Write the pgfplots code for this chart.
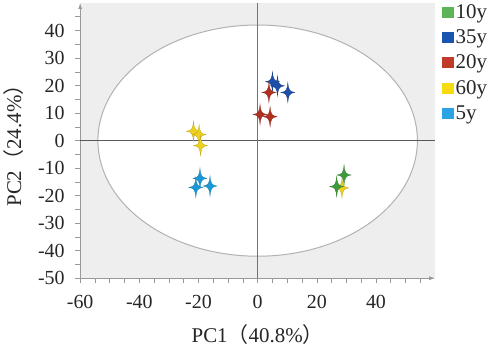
\documentclass[border=0pt]{standalone}
\usepackage{pgfplots}
\pgfplotsset{compat=1.18}
\usepackage{fontspec}
\setmainfont{Liberation Serif}
\newfontfamily\cjk{Noto Sans CJK SC}
\usetikzlibrary{arrows.meta,calc}
\definecolor{cgreen}{HTML}{3E9A3A}
\definecolor{cblue}{HTML}{1F4FA8}
\definecolor{cred}{HTML}{B0301F}
\definecolor{cyellow}{HTML}{EDD020}
\definecolor{ccyan}{HTML}{1A98D6}
\definecolor{lgreen}{HTML}{5DB456}
\definecolor{lblue}{HTML}{1A56B0}
\definecolor{lred}{HTML}{C0392B}
\definecolor{lyellow}{HTML}{F7DA10}
\definecolor{lcyan}{HTML}{2AA3E2}
\definecolor{bg}{HTML}{EEEEEE}
\pgfdeclareplotmark{sparkle}{%
 \pgfpathmoveto{\pgfqpoint{0pt}{10pt}}%
 \pgfpathcurveto{\pgfqpoint{0.7pt}{2.6pt}}{\pgfqpoint{1.6pt}{0.7pt}}{\pgfqpoint{7pt}{0pt}}%
 \pgfpathcurveto{\pgfqpoint{1.6pt}{-0.7pt}}{\pgfqpoint{0.7pt}{-2.6pt}}{\pgfqpoint{0pt}{-10pt}}%
 \pgfpathcurveto{\pgfqpoint{-0.7pt}{-2.6pt}}{\pgfqpoint{-1.6pt}{-0.7pt}}{\pgfqpoint{-7pt}{0pt}}%
 \pgfpathcurveto{\pgfqpoint{-1.6pt}{0.7pt}}{\pgfqpoint{-0.7pt}{2.6pt}}{\pgfqpoint{0pt}{10pt}}%
 \pgfpathclose
 \pgfusepathqfillstroke}
\begin{document}
\begin{tikzpicture}
\begin{axis}[
  scale only axis, width=356pt, height=276pt,
  xmin=-60, xmax=60, ymin=-50, ymax=50,
  axis x line=bottom, axis y line=left,
  axis line style={draw=gray!80, line width=0.8pt, -{Latex[length=6pt,width=4pt]}},
  axis background/.style={fill=bg},
  xtick={-60,-40,...,40}, minor xtick={-55,-50,...,55},
  ytick={-50,-40,...,40}, minor ytick={-45,-40,...,45},
  tick align=outside, major tick length=5pt, minor tick length=5pt,
  tick style={draw=gray!80, line width=0.6pt},
  every tick label/.append style={font=\fontsize{20}{22}\selectfont, text=black!85},
  yticklabel style={xshift=-7pt},
  xticklabel style={yshift=-9pt},
  /pgf/number format/assume math mode=true,
  xlabel={PC1{\cjk （}40.8\%{\cjk ）}},
  ylabel={PC2{\cjk （}24.4\%{\cjk ）}},
  label style={font=\fontsize{21}{23}\selectfont, text=black!85},
  ylabel style={yshift=8pt},
  xlabel style={yshift=-9pt},
  clip=false,
  legend style={at={(1,1)}, anchor=north west, xshift=7pt, yshift=1pt, draw=none, fill=none,
    inner sep=0pt, font=\fontsize{21}{23}\selectfont, row sep=6pt,
    nodes={inner sep=2pt, text=black!85}},
  legend cell align=left,
]
\addlegendimage{legend image code/.code={\fill[lgreen] (0pt,-5pt) rectangle (11pt,5pt);}}
\addlegendentry{10y}
\addlegendimage{legend image code/.code={\fill[lblue] (0pt,-5pt) rectangle (11pt,5pt);}}
\addlegendentry{35y}
\addlegendimage{legend image code/.code={\fill[lred] (0pt,-5pt) rectangle (11pt,5pt);}}
\addlegendentry{20y}
\addlegendimage{legend image code/.code={\fill[lyellow] (0pt,-5pt) rectangle (11pt,5pt);}}
\addlegendentry{60y}
\addlegendimage{legend image code/.code={\fill[lcyan] (0pt,-5pt) rectangle (11pt,5pt);}}
\addlegendentry{5y}
\draw[draw=gray!60, line width=1pt, fill=white] (axis cs:0,0) ellipse [x radius=54, y radius=42];
\draw[black!65, line width=0.9pt] (axis cs:-60,0) -- (axis cs:60,0);
\draw[black!55, line width=0.9pt] (axis cs:0,-50) -- (axis cs:0,50);
% 60y
\addplot[only marks, mark=sparkle, mark options={fill=cyellow, draw=cyellow!80!black, line width=0.3pt}, forget plot]
  coordinates {(-21.7,3.4) (-19.8,2.2) (-19.3,-1.8) (28.5,-17.2)};
% 10y
\addplot[only marks, mark=sparkle, mark options={fill=cgreen, draw=cgreen!80!black, line width=0.3pt}, forget plot]
  coordinates {(29.2,-12.5) (26.7,-16.7)};
% 35y
\addplot[only marks, mark=sparkle, mark options={fill=cblue, draw=cblue!80!black, line width=0.3pt}, forget plot]
  coordinates {(5.0,21.4) (6.7,19.9) (10.2,17.5)};
% 20y
\addplot[only marks, mark=sparkle, mark options={fill=cred, draw=cred!80!black, line width=0.3pt}, forget plot]
  coordinates {(3.8,17.5) (0.8,9.5) (4.2,8.7)};
% 5y
\addplot[only marks, mark=sparkle, mark options={fill=ccyan, draw=ccyan!80!black, line width=0.3pt}, forget plot]
  coordinates {(-19.5,-13.7) (-20.9,-17.0) (-16.1,-16.5)};
\end{axis}
\path (current axis.south west) ++(-79pt,-73pt) rectangle ($(current axis.north east)+(58pt,3pt)$);
\end{tikzpicture}
\end{document}
